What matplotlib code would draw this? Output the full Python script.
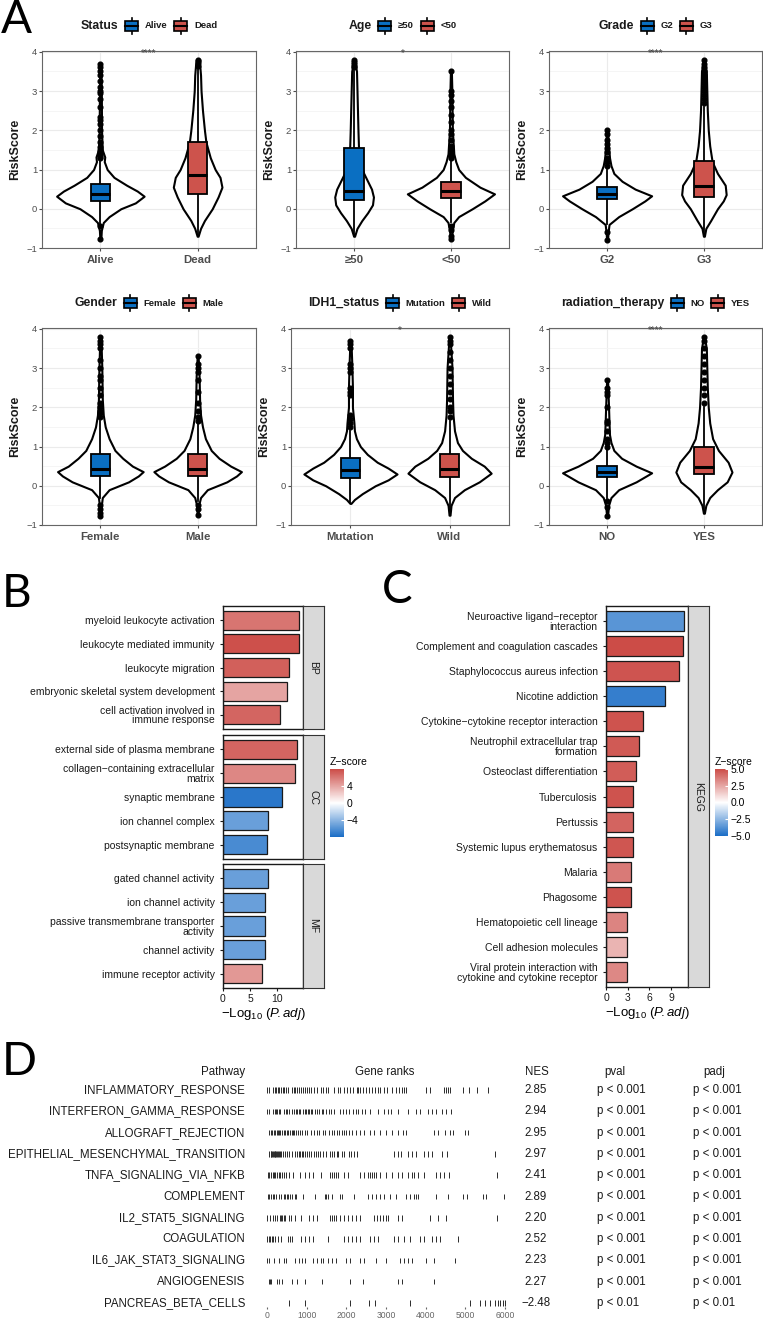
import numpy as np
import matplotlib
matplotlib.use("Agg")
import matplotlib.pyplot as plt
from matplotlib.colors import LinearSegmentedColormap, Normalize
from matplotlib.cm import ScalarMappable
from matplotlib.offsetbox import AnchoredOffsetbox, HPacker, TextArea, DrawingArea
from matplotlib.patches import Rectangle
from matplotlib.lines import Line2D
from matplotlib.transforms import blended_transform_factory

plt.rcParams['font.family'] = ['Liberation Sans', 'DejaVu Sans']
plt.rcParams['mathtext.fontset'] = 'custom'
plt.rcParams['mathtext.rm'] = 'Liberation Sans'
plt.rcParams['mathtext.it'] = 'Liberation Sans:italic'

# ---------------- Panel A data (risk score by clinical group) ----------------
# box stats: (q1, median, q3, whisker low, whisker high)
status_groups = ["Alive", "Dead"]
status_stats = [(0.20, 0.38, 0.62, -0.40, 1.25), (0.38, 0.85, 1.70, -0.70, 3.55)]
status_out = [[-0.45, -0.78, 1.30, 1.33, 1.36, 1.40, 1.45, 1.50, 1.58, 1.70, 1.85, 2.0, 2.15, 2.25,
               2.35, 2.6, 2.8, 2.95, 3.0, 3.1, 3.25, 3.4, 3.5, 3.6, 3.68],
              [3.65, 3.72, 3.76, 3.80]]
status_vy = [[-0.78, -0.55, -0.35, -0.2, 0.0, 0.15, 0.32, 0.45, 0.6, 0.8, 1.0, 1.2, 1.32, 1.5, 2.0, 3.0, 3.68],
             [-0.7, -0.5, -0.3, 0.0, 0.3, 0.55, 0.8, 1.0, 1.3, 1.7, 2.0, 2.5, 3.0, 3.4, 3.7, 3.82]]
status_vw = [[0.005, 0.01, 0.03, 0.09, 0.21, 0.36, 0.45, 0.38, 0.27, 0.14, 0.07, 0.04, 0.045, 0.02, 0.012, 0.01, 0.006],
             [0.005, 0.03, 0.07, 0.15, 0.21, 0.25, 0.23, 0.18, 0.13, 0.085, 0.07, 0.05, 0.035, 0.03, 0.02, 0.005]]

age_groups = ["≥50", "<50"]
age_stats = [(0.22, 0.45, 1.55, -0.70, 3.50), (0.27, 0.45, 0.68, -0.35, 1.25)]
age_out = [[3.6, 3.65, 3.7, 3.75, 3.8],
           [-0.45, -0.55, -0.7, -0.78, 1.3, 1.35, 1.4, 1.5, 1.6, 1.75, 1.9, 2.0, 2.2, 2.4, 2.6, 2.75, 2.9, 3.0, 3.5]]
age_vy = [[-0.7, -0.5, -0.3, -0.1, 0.1, 0.3, 0.5, 0.7, 0.9, 1.1, 1.3, 1.6, 2.0, 2.5, 3.0, 3.5, 3.8],
          [-0.78, -0.55, -0.35, -0.2, 0.0, 0.2, 0.38, 0.55, 0.8, 1.0, 1.2, 1.4, 2.0, 3.0, 3.5]]
age_vw = [[0.005, 0.03, 0.08, 0.14, 0.19, 0.2, 0.18, 0.14, 0.1, 0.07, 0.055, 0.045, 0.04, 0.035, 0.03, 0.025, 0.005],
          [0.005, 0.015, 0.03, 0.08, 0.22, 0.35, 0.45, 0.3, 0.15, 0.08, 0.05, 0.03, 0.015, 0.01, 0.005]]

grade_groups = ["G2", "G3"]
grade_stats = [(0.24, 0.37, 0.56, -0.40, 1.00), (0.30, 0.57, 1.22, -0.70, 2.60)]
grade_out = [[-0.6, -0.8, 1.1, 1.2, 1.3, 1.45, 1.55, 1.65, 1.75, 1.9, 2.0],
             [2.7, 2.8, 2.9, 3.0, 3.1, 3.2, 3.3, 3.4, 3.5, 3.6, 3.7, 3.8]]
grade_vy = [[-0.8, -0.6, -0.4, -0.2, 0.0, 0.2, 0.33, 0.5, 0.7, 0.9, 1.1, 1.3, 1.6, 2.0],
            [-0.7, -0.5, -0.3, 0.0, 0.2, 0.36, 0.6, 0.9, 1.2, 1.6, 2.0, 2.5, 3.0, 3.5, 3.8]]
grade_vw = [[0.005, 0.01, 0.02, 0.12, 0.26, 0.39, 0.46, 0.29, 0.155, 0.07, 0.04, 0.025, 0.015, 0.005],
            [0.005, 0.02, 0.07, 0.14, 0.2, 0.23, 0.22, 0.14, 0.085, 0.06, 0.045, 0.035, 0.03, 0.025, 0.005]]

gender_groups = ["Female", "Male"]
gender_stats = [(0.25, 0.43, 0.82, -0.30, 1.65), (0.25, 0.42, 0.80, -0.40, 1.60)]
gender_out = [[-0.5, -0.6, -0.7, -0.78, 1.75, 1.85, 1.9, 2.0, 2.1, 2.3, 2.5, 2.7, 2.8, 3.0, 3.2, 3.5, 3.6, 3.7, 3.8],
              [-0.5, -0.6, -0.75, 1.65, 1.75, 1.9, 2.1, 2.4, 2.7, 2.9, 3.0, 3.1, 3.3]]
gender_vy = [[-0.78, -0.5, -0.3, -0.1, 0.1, 0.25, 0.36, 0.5, 0.7, 0.9, 1.2, 1.5, 1.8, 2.2, 3.0, 3.8],
             [-0.75, -0.5, -0.3, -0.1, 0.1, 0.25, 0.36, 0.5, 0.7, 0.9, 1.2, 1.5, 1.8, 2.2, 2.8, 3.3]]
gender_vw = [[0.005, 0.01, 0.02, 0.09, 0.29, 0.39, 0.44, 0.33, 0.23, 0.15, 0.09, 0.05, 0.03, 0.02, 0.015, 0.005],
             [0.005, 0.01, 0.03, 0.1, 0.3, 0.4, 0.45, 0.34, 0.22, 0.14, 0.08, 0.05, 0.03, 0.02, 0.015, 0.005]]

idh1_groups = ["Mutation", "Wild"]
idh1_stats = [(0.20, 0.40, 0.70, -0.45, 1.40), (0.22, 0.42, 0.80, -0.75, 1.65)]
idh1_out = [[1.5, 1.6, 1.7, 1.8, 2.3, 2.4, 2.5, 2.9, 3.0, 3.1, 3.5, 3.6, 3.7],
            [1.75, 1.9, 2.0, 2.2, 2.4, 2.6, 2.8, 3.0, 3.2, 3.4, 3.6, 3.7, 3.8]]
idh1_vy = [[-0.45, -0.35, -0.2, 0.0, 0.15, 0.3, 0.45, 0.6, 0.8, 1.0, 1.2, 1.4, 1.6, 2.0, 2.5, 3.0, 3.7],
           [-0.75, -0.5, -0.3, -0.1, 0.1, 0.32, 0.5, 0.7, 0.9, 1.1, 1.4, 1.8, 2.2, 3.0, 3.8]]
idh1_vw = [[0.005, 0.04, 0.12, 0.25, 0.38, 0.47, 0.38, 0.27, 0.17, 0.1, 0.06, 0.04, 0.035, 0.02, 0.02, 0.015, 0.005],
           [0.005, 0.015, 0.05, 0.15, 0.3, 0.42, 0.35, 0.22, 0.13, 0.08, 0.05, 0.035, 0.03, 0.025, 0.005]]

radio_groups = ["NO", "YES"]
radio_stats = [(0.22, 0.36, 0.50, -0.30, 0.90), (0.30, 0.47, 1.00, -0.70, 2.00)]
radio_out = [[-0.4, -0.55, -0.78, 1.0, 1.1, 1.2, 1.4, 1.6, 1.65, 2.0, 2.3, 2.4, 2.5, 2.7],
             [2.1, 2.3, 2.5, 2.7, 2.9, 3.1, 3.3, 3.5, 3.7, 3.8]]
radio_vy = [[-0.78, -0.5, -0.3, -0.1, 0.1, 0.33, 0.5, 0.7, 0.9, 1.1, 1.3, 1.6, 2.0, 2.7],
            [-0.7, -0.5, -0.3, -0.1, 0.1, 0.35, 0.6, 0.9, 1.2, 1.6, 2.0, 2.5, 3.0, 3.5, 3.8]]
radio_vw = [[0.005, 0.015, 0.04, 0.12, 0.3, 0.46, 0.3, 0.15, 0.07, 0.04, 0.025, 0.02, 0.015, 0.005],
            [0.005, 0.02, 0.06, 0.14, 0.24, 0.29, 0.25, 0.15, 0.09, 0.06, 0.045, 0.035, 0.03, 0.025, 0.005]]

# ---------------- Panel B data (GO) ----------------
bp_terms = ["myeloid leukocyte activation", "leukocyte mediated immunity", "leukocyte migration",
            "embryonic skeletal system development", "cell activation involved in\nimmune response"]
bp_vals = [13.95, 13.95, 12.1, 11.75, 10.5]
bp_z = [6.0, 7.6, 6.9, 3.9, 6.7]
cc_terms = ["external side of plasma membrane", "collagen\u2212containing extracellular\nmatrix",
            "synaptic membrane", "ion channel complex", "postsynaptic membrane"]
cc_vals = [13.5, 13.2, 10.9, 8.26, 8.07]
cc_z = [6.7, 5.2, -7.2, -5.1, -6.2]
mf_terms = ["gated channel activity", "ion channel activity", "passive transmembrane transporter\nactivity",
            "channel activity", "immune receptor activity"]
mf_vals = [8.33, 7.7, 7.7, 7.7, 7.16]
mf_z = [-5.1, -5.1, -5.1, -5.1, 4.5]

# ---------------- Panel C data (KEGG) ----------------
kegg_terms = ["Neuroactive ligand\u2212receptor\ninteraction", "Complement and coagulation cascades",
              "Staphylococcus aureus infection", "Nicotine addiction",
              "Cytokine\u2212cytokine receptor interaction", "Neutrophil extracellular trap\nformation",
              "Osteoclast differentiation", "Tuberculosis", "Pertussis", "Systemic lupus erythematosus",
              "Malaria", "Phagosome", "Hematopoietic cell lineage", "Cell adhesion molecules",
              "Viral protein interaction with\ncytokine and cytokine receptor"]
kegg_vals = [10.8, 10.6, 10.15, 8.2, 5.07, 4.6, 4.1, 3.77, 3.77, 3.77, 3.45, 3.45, 2.9, 2.9, 2.9]
kegg_z = [-3.6, 5.0, 4.75, -4.4, 4.8, 4.6, 4.5, 4.8, 4.3, 4.7, 3.7, 4.8, 3.4, 2.1, 3.3]

# ---------------- Panel D data (GSEA table) ----------------
pathways = ["INFLAMMATORY_RESPONSE", "INTERFERON_GAMMA_RESPONSE", "ALLOGRAFT_REJECTION",
            "EPITHELIAL_MESENCHYMAL_TRANSITION", "TNFA_SIGNALING_VIA_NFKB", "COMPLEMENT",
            "IL2_STAT5_SIGNALING", "COAGULATION", "IL6_JAK_STAT3_SIGNALING", "ANGIOGENESIS",
            "PANCREAS_BETA_CELLS"]
nes = ["2.85", "2.94", "2.95", "2.97", "2.41", "2.89", "2.20", "2.52", "2.23", "2.27", "\u22122.48"]
pval = ["p < 0.001"] * 10 + ["p < 0.01"]
padj = ["p < 0.001"] * 10 + ["p < 0.01"]
gene_ranks = [
    [10, 50, 150, 190, 230, 270, 300, 360, 400, 440, 480, 520, 620, 670, 710, 760, 800, 850, 900, 950, 1000,
     1060, 1110, 1180, 1260, 1360, 1420, 1480, 1540, 1700, 1780, 1850, 1950, 2010, 2100, 2180, 2260, 2300,
     2350, 2420, 2500, 2560, 2640, 2720, 2800, 2860, 2950, 3030, 3150, 3250, 3320, 3400, 3450, 3510, 4000,
     4100, 4450, 4500, 4560, 4620, 4950, 5080, 5300, 5580],
    [10, 50, 150, 190, 220, 260, 300, 340, 430, 470, 510, 550, 640, 680, 720, 760, 800, 840, 900, 950, 990,
     1030, 1060, 1100, 1140, 1200, 1260, 1320, 1380, 1420, 1500, 1560, 1620, 1700, 1850, 1920, 2000, 2060,
     2180, 2240, 2290, 2400, 2480, 2600, 2800, 2950, 3050, 3120, 3300, 3550, 3750, 3850, 4050, 4150, 4250,
     4400, 4500, 4640],
    [50, 90, 130, 170, 200, 240, 270, 300, 330, 380, 420, 460, 500, 540, 580, 620, 660, 690, 730, 770, 820,
     880, 950, 1020, 1100, 1180, 1250, 1320, 1400, 1460, 1560, 1640, 1700, 1760, 1820, 1880, 1940, 2000,
     2060, 2150, 2250, 2350, 2450, 2600, 2700, 2850, 3000, 3150, 3300, 3420, 3500, 4200, 4320, 4480, 4620,
     4700, 5000, 5060],
    [60, 90, 110, 130, 150, 170, 190, 210, 230, 250, 270, 300, 330, 360, 400, 450, 500, 560, 620, 700, 760,
     800, 840, 880, 920, 960, 1000, 1050, 1120, 1180, 1240, 1290, 1340, 1420, 1500, 1580, 1640, 1700, 1760,
     1800, 1880, 1950, 2060, 2120, 2200, 2260, 3200, 3300, 3380, 3550, 3650, 3750, 3950, 4050, 4150, 4400,
     4550, 5750],
    [20, 60, 100, 150, 180, 210, 250, 290, 330, 380, 420, 470, 550, 650, 820, 950, 1050, 1150, 1350, 1600,
     1650, 1700, 1750, 1800, 1950, 2050, 2350, 2450, 2550, 2600, 2650, 2700, 2750, 2850, 3000, 3150, 3300,
     3400, 3550, 3650, 3700, 3800, 3950, 4250, 4350, 4450, 4600, 5800],
    [20, 60, 100, 140, 180, 220, 300, 350, 420, 460, 500, 540, 580, 620, 700, 740, 900, 1200, 1450, 1500,
     1550, 1650, 1850, 1900, 2200, 2550, 2650, 2750, 2850, 2950, 3100, 3250, 3500, 3600, 3700, 3750, 3800,
     4250, 4570, 4950, 5050, 5450, 5520, 5980],
    [10, 80, 150, 190, 240, 320, 350, 380, 420, 460, 560, 600, 700, 850, 1050, 1150, 1250, 1600, 1650, 1700,
     1750, 1850, 1950, 2050, 2150, 2250, 2350, 2700, 2780, 2850, 2920, 3000, 3050, 3300, 3400, 4100, 4300,
     4500, 5800],
    [10, 40, 80, 120, 160, 200, 280, 350, 520, 570, 620, 850, 950, 1050, 1150, 1550, 1950, 2050, 2150, 2250,
     2350, 2600, 2700, 2800, 3200, 3300, 3450, 3600, 3850, 3950, 4150, 4250, 4350, 4820],
    [10, 60, 180, 300, 420, 470, 700, 800, 880, 960, 1150, 1250, 1350, 1420, 1550, 1650, 1750, 2000, 2100,
     2350, 2450, 2750, 3000, 3350, 3450, 3550, 3650, 4000, 4200, 4740],
    [40, 80, 110, 250, 300, 380, 630, 760, 960, 1380, 2100, 2430, 3310, 3400, 4200],
    [545, 965, 2100, 2560, 2730, 3610, 5120, 5370, 5500, 5620, 5750, 5820, 5880, 5940, 6000],
]
rank_ticks = [0, 1000, 2000, 3000, 4000, 5000, 6000]

# ---------------- figure ----------------
W, H = 763, 1328
fig = plt.figure(figsize=(W / 100, H / 100), dpi=100)

BLUE = "#0A6FC2"
RED = "#CD534C"
TXT = "#4D4D4D"


def px_axes(l, t, r, b):
    return fig.add_axes([l / W, 1 - b / H, (r - l) / W, (b - t) / H])


def key_glyph(color):
    da = DrawingArea(11, 12, 0, 0)
    da.add_artist(Line2D([5.5, 5.5], [0, 12], color='black', lw=1.2))
    da.add_artist(Rectangle((0.8, 2.5), 9.4, 7, facecolor=color, edgecolor='black', lw=1.2))
    da.add_artist(Line2D([0.8, 10.2], [6.0, 6.0], color='black', lw=1.5))
    return da


def add_legend(title, groups, cx, cy):
    small = dict(fontsize=6.8, weight='bold', color='#1a1a1a')
    kids = [TextArea(title, textprops=dict(fontsize=8.8, weight='bold', color='#1a1a1a')),
            key_glyph(BLUE), TextArea(groups[0], textprops=small),
            key_glyph(RED), TextArea(groups[1], textprops=small)]
    pack = HPacker(children=kids, sep=4, align='center', pad=0)
    anch = AnchoredOffsetbox(loc='center', child=pack, bbox_to_anchor=(cx / W, 1 - cy / H),
                             bbox_transform=fig.transFigure, frameon=False, pad=0, borderpad=0)
    fig.add_artist(anch)


def violin_panel(box, title, groups, vy, vw, stats, outl, sig, leg_y):
    ax = px_axes(*box)
    ax.set_xlim(0.4, 2.6)
    ax.set_ylim(-1, 4.02)
    ax.set_yticks([-1, 0, 1, 2, 3, 4])
    ax.set_yticks([-0.5, 0.5, 1.5, 2.5, 3.5], minor=True)
    ax.grid(True, which='major', color='#EBEBEB', lw=0.8)
    ax.grid(True, which='minor', axis='y', color='#F4F4F4', lw=0.6)
    ax.set_axisbelow(True)
    for i in range(2):
        c = i + 1
        y = np.array(vy[i])
        w = np.array(vw[i])
        ax.fill_betweenx(y, c - w, c + w, facecolor='white', edgecolor='black', lw=1.5, zorder=2)
    bstats = []
    for i in range(2):
        q1, med, q3, lo, hi = stats[i]
        bstats.append(dict(med=med, q1=q1, q3=q3, whislo=lo, whishi=hi, fliers=outl[i]))
    bp = ax.bxp(bstats, positions=[1, 2], widths=0.2, patch_artist=True, showcaps=False,
                boxprops=dict(edgecolor='black', lw=1.3),
                medianprops=dict(color='black', lw=2.2),
                whiskerprops=dict(color='black', lw=1.3),
                flierprops=dict(marker='o', markersize=3.4, markerfacecolor='black',
                                markeredgecolor='black'))
    for patch, col in zip(bp['boxes'], [BLUE, RED]):
        patch.set_facecolor(col)
        patch.set_zorder(4)
    for ln in bp['medians']:
        ln.set_zorder(5)
    ax.set_xticks([1, 2], groups)
    for lab in ax.get_xticklabels():
        lab.set_fontweight('bold')
    ax.tick_params(axis='x', labelsize=8.2, colors=TXT, length=2, pad=3)
    ax.tick_params(axis='y', labelsize=6.8, colors=TXT, length=2, pad=1.5)
    ax.tick_params(which='minor', length=0)
    for sp in ax.spines.values():
        sp.set_color('#666666')
        sp.set_linewidth(0.8)
    ax.set_ylabel("RiskScore", fontsize=9, weight='bold', color='#1a1a1a', labelpad=4)
    if sig:
        ax.text(1.5, 3.96, sig, ha='center', va='center', fontsize=7, color='#444444')
    add_legend(title, groups, (box[0] + box[2]) / 2, leg_y)
    return ax


violin_panel((42, 51, 256, 248), "Status", status_groups, status_vy, status_vw, status_stats,
             status_out, "****", 26)
violin_panel((296, 51, 509, 248), "Age", age_groups, age_vy, age_vw, age_stats, age_out, "*", 26)
violin_panel((549, 51, 762, 248), "Grade", grade_groups, grade_vy, grade_vw, grade_stats,
             grade_out, "****", 26)
violin_panel((42, 328, 256, 525), "Gender", gender_groups, gender_vy, gender_vw, gender_stats,
             gender_out, "", 303)
violin_panel((291, 328, 509, 525), "IDH1_status", idh1_groups, idh1_vy, idh1_vw, idh1_stats,
             idh1_out, "*", 303)
violin_panel((549, 328, 762, 525), "radiation_therapy", radio_groups, radio_vy, radio_vw, radio_stats,
             radio_out, "****", 303)

# ---------------- Panels B and C ----------------
zcmap = LinearSegmentedColormap.from_list("z", ["#1A6DC6", "#FFFFFF", "#CC4C47"])


def bar_facet(box, strip_right, terms, vals, zs, norm, xmax, strip_label, xticks=None):
    ax = px_axes(*box)
    n = len(terms)
    y = np.arange(n)
    ax.barh(y, vals, height=0.8, color=zcmap(norm(np.array(zs))), edgecolor='#1a1a1a', lw=0.9)
    ax.set_ylim(n - 0.4, -0.6)
    ax.set_xlim(0, xmax)
    ax.set_yticks(y, terms)
    for lab in ax.get_yticklabels():
        lab.set_linespacing(0.95)
    ax.tick_params(axis='y', labelsize=7.5, colors='#1a1a1a', length=2.5, pad=3.5)
    if xticks is None:
        ax.set_xticks([])
    else:
        ax.set_xticks(xticks)
        ax.tick_params(axis='x', labelsize=7.5, colors='#1a1a1a', length=2.5, pad=2)
        ax.set_xlabel("\u2212Log$_{10}$ ($\\mathit{P}\\!\\mathit{.adj}$)", fontsize=9.5, labelpad=1)
    for sp in ax.spines.values():
        sp.set_color('#1a1a1a')
        sp.set_linewidth(1.0)
    sax = px_axes(box[2], box[1], strip_right, box[3])
    sax.set_facecolor('#D9D9D9')
    sax.set_xticks([])
    sax.set_yticks([])
    for sp in sax.spines.values():
        sp.set_color('#333333')
        sp.set_linewidth(0.8)
    sax.text(0.5, 0.5, strip_label, rotation=-90, ha='center', va='center', fontsize=7.5,
             color='#1a1a1a', transform=sax.transAxes)
    return ax


def z_colorbar(box, norm, ticks, labels, title):
    cax = px_axes(*box)
    cb = fig.colorbar(ScalarMappable(norm=norm, cmap=zcmap), cax=cax)
    cb.outline.set_visible(False)
    cb.set_ticks(ticks, labels=labels)
    cax.tick_params(length=2.5, color='white', direction='in', labelsize=7.5, pad=2)
    fig.text(box[0] / W, 1 - (box[1] - 7) / H, title, fontsize=7.5, ha='left', va='center')


norm_b = Normalize(-7.8, 7.8)
bar_facet((223, 606, 303, 729), 324, bp_terms, bp_vals, bp_z, norm_b, 14.68, "BP")
bar_facet((223, 735, 303, 859), 324, cc_terms, cc_vals, cc_z, norm_b, 14.68, "CC")
bar_facet((223, 864, 303, 988), 324, mf_terms, mf_vals, mf_z, norm_b, 14.68, "MF", xticks=[0, 5, 10])
z_colorbar((330, 769, 344, 837), norm_b, [4, 0, -4], ["4", "0", "\u22124"], "Z\u2212score")

norm_c = Normalize(-5.0, 5.0)
bar_facet((606, 606, 688, 987), 709, kegg_terms, kegg_vals, kegg_z, norm_c, 11.36, "KEGG",
          xticks=[0, 3, 6, 9])
z_colorbar((715, 769, 728, 836), norm_c, [5, 2.5, 0, -2.5, -5],
           ["5.0", "2.5", "0.0", "\u22122.5", "\u22125.0"], "Z\u2212score")

# ---------------- Panel D ----------------
axd = px_axes(262, 1080, 510, 1307)
axd.set_xlim(-126, 6126)
axd.set_ylim((1307 - 1090) / 21.3, (1080 - 1090) / 21.3)
for i, ranks in enumerate(gene_ranks):
    axd.vlines(ranks, i - 0.13, i + 0.13, color='#2a2a2a', lw=0.7)
axd.set_yticks([])
axd.set_xticks(rank_ticks)
axd.tick_params(axis='x', labelsize=6.2, colors='#666666', length=1.5, width=0.8, pad=1.5)
for sp in axd.spines.values():
    sp.set_visible(False)

tr = blended_transform_factory(fig.transFigure, axd.transData)
dfont = dict(fontsize=8.3, color='#1a1a1a', va='center')
hy = 1 - 1072 / H
fig.text(245 / W, hy, "Pathway", ha='right', **dfont)
fig.text(385 / W, hy, "Gene ranks", ha='center', **dfont)
fig.text(537 / W, hy, "NES", ha='center', **dfont)
fig.text(615 / W, hy, "pval", ha='center', **dfont)
fig.text(714 / W, hy, "padj", ha='center', **dfont)
for i in range(len(pathways)):
    axd.text(245 / W, i, pathways[i], ha='right', transform=tr, **dfont)
    axd.text(536 / W, i, nes[i], ha='center', transform=tr, **dfont)
    axd.text(597 / W, i, pval[i], ha='left', transform=tr, **dfont)
    axd.text(693 / W, i, padj[i], ha='left', transform=tr, **dfont)

# panel letters
for letter, x, y in [("A", 1, 33), ("B", 2, 607), ("C", 382, 603), ("D", 2, 1075)]:
    fig.text(x / W, 1 - y / H, letter, fontsize=33, family=['Lato', 'DejaVu Sans'],
             ha='left', va='baseline')

fig.savefig("out.png", dpi=100)
